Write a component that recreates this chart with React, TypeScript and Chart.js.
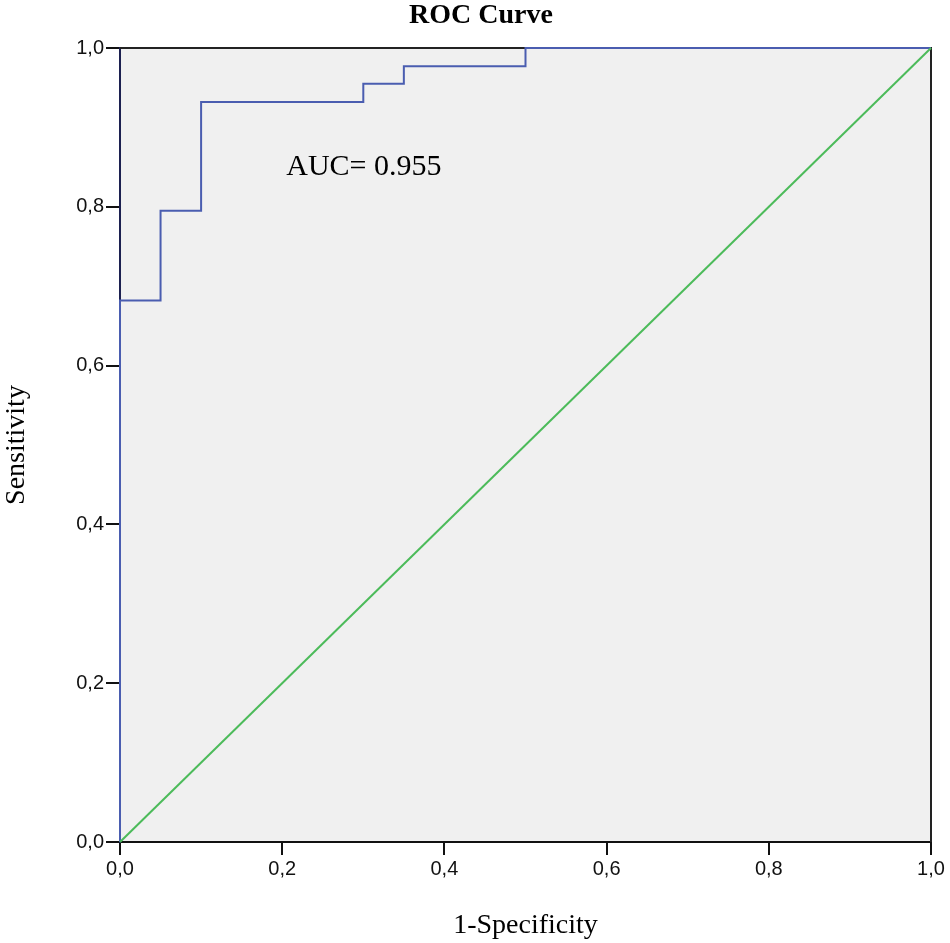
import React, { useEffect, useRef } from "react";
import { Chart, ChartConfiguration, Plugin, registerables } from "chart.js";

Chart.register(...registerables);

// ROC step curve (44 positives, 20 negatives)
const fpr = [0, 0, 0.05, 0.05, 0.1, 0.1, 0.3, 0.3, 0.35, 0.35, 0.5, 0.5, 1];
const tpr = [0, 0.682, 0.682, 0.795, 0.795, 0.932, 0.932, 0.955, 0.955, 0.977, 0.977, 1, 1];
const refX = [0, 1];
const refY = [0, 1];
const tickValues = [0, 0.2, 0.4, 0.6, 0.8, 1];
const aucText = "AUC= 0.955";

const fmt = (v: number) => v.toFixed(1).replace(".", ",");

const framePlugin: Plugin<"line"> = {
  id: "frame",
  beforeDraw(chart) {
    const { ctx, chartArea: a } = chart;
    ctx.save();
    ctx.fillStyle = "#f0f0f0";
    ctx.fillRect(a.left, a.top, a.right - a.left, a.bottom - a.top);
    ctx.restore();
  },
  beforeDatasetsDraw(chart) {
    const { ctx, chartArea: a } = chart;
    ctx.save();
    ctx.strokeStyle = "#222";
    ctx.lineWidth = 2;
    ctx.beginPath();
    ctx.moveTo(a.left, a.top);
    ctx.lineTo(a.right, a.top);
    ctx.lineTo(a.right, a.bottom);
    ctx.stroke();
    ctx.restore();
  },
  afterDraw(chart) {
    const { ctx, scales } = chart;
    ctx.save();
    ctx.fillStyle = "#000";
    ctx.textBaseline = "middle";
    ctx.textAlign = "center";
    ctx.font = "bold 28px 'Liberation Serif', 'Times New Roman', serif";
    ctx.fillText("ROC Curve", 481, 16);
    ctx.textAlign = "left";
    ctx.font = "30px 'Liberation Serif', 'Times New Roman', serif";
    ctx.fillText(aucText, scales.x.getPixelForValue(0.205), scales.y.getPixelForValue(0.85));
    ctx.restore();
  },
};

const App: React.FC = () => {
  const chartRef = useRef<HTMLCanvasElement | null>(null);

  useEffect(() => {
    document.body.style.margin = "0";
    if (!chartRef.current) return;

    const tickFont = { family: "'Liberation Sans', Arial, sans-serif", size: 20 };
    const titleFont = { family: "'Liberation Serif', 'Times New Roman', serif", size: 28 };

    const config: ChartConfiguration<"line"> = {
      type: "line",
      data: {
        datasets: [
          {
            label: "Reference",
            data: refX.map((x, i) => ({ x, y: refY[i] })),
            borderColor: "#4cbb5a",
            borderWidth: 2,
            pointRadius: 0,
            tension: 0,
            clip: 4,
          },
          {
            label: "ROC",
            data: fpr.map((x, i) => ({ x, y: tpr[i] })),
            borderColor: "#4a5db0",
            borderWidth: 2,
            pointRadius: 0,
            tension: 0,
            clip: 4,
          },
        ],
      },
      options: {
        animation: false,
        responsive: false,
        layout: { padding: { left: 0, right: 19, top: 48, bottom: 0 } },
        plugins: {
          legend: { display: false },
          tooltip: { enabled: false },
          title: { display: false },
        },
        scales: {
          x: {
            type: "linear",
            min: 0,
            max: 1,
            afterBuildTicks: (s) => {
              s.ticks = tickValues.map((value) => ({ value }));
            },
            afterFit: (s) => {
              s.height = 101;
            },
            ticks: {
              callback: (v) => fmt(Number(v)),
              font: tickFont,
              color: "#111",
              padding: 2,
              maxRotation: 0,
            },
            grid: {
              drawOnChartArea: false,
              drawTicks: true,
              tickLength: 13,
              color: "#111",
              lineWidth: 2,
            },
            border: { display: true, color: "#111", width: 2 },
            title: {
              display: true,
              text: "1-Specificity",
              font: titleFont,
              color: "#000",
              padding: { top: 0, bottom: 1 },
            },
          },
          y: {
            type: "linear",
            min: 0,
            max: 1,
            afterBuildTicks: (s) => {
              s.ticks = tickValues.map((value) => ({ value }));
            },
            afterFit: (s) => {
              s.width = 120;
            },
            ticks: {
              callback: (v) => fmt(Number(v)),
              font: tickFont,
              color: "#111",
              padding: 2,
            },
            grid: {
              drawOnChartArea: false,
              drawTicks: true,
              tickLength: 14,
              color: "#111",
              lineWidth: 2,
            },
            border: { display: true, color: "#1c2050", width: 2 },
            title: {
              display: true,
              text: "Sensitivity",
              font: titleFont,
              color: "#000",
              padding: { top: 0, bottom: 0 },
            },
          },
        },
      },
      plugins: [framePlugin],
    };

    const chart = new Chart(chartRef.current, config);
    return () => {
      chart.destroy();
    };
  }, []);

  return <canvas ref={chartRef} width={950} height={943}></canvas>;
};

export default App;
